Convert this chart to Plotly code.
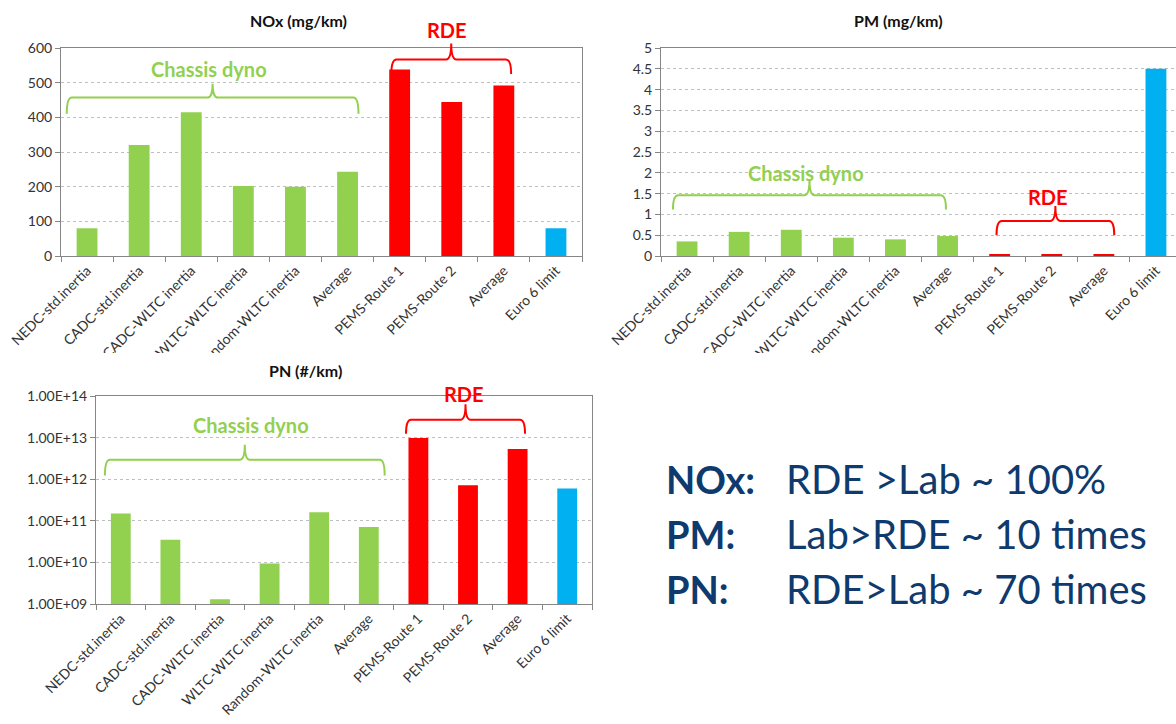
import plotly.graph_objects as go

W, H = 1176, 724

categories = ["NEDC-std.inertia", "CADC-std.inertia", "CADC-WLTC inertia",
              "WLTC-WLTC inertia", "Random-WLTC inertia", "Average",
              "PEMS-Route 1", "PEMS-Route 2", "Average", "Euro 6 limit"]
groups = ["lab"] * 6 + ["rde"] * 3 + ["limit"]

nox = [80, 320, 415, 202, 200, 243, 538, 444, 492, 80]
pm = [0.35, 0.58, 0.63, 0.44, 0.40, 0.48, 0.03, 0.03, 0.03, 4.5]
pn = [1.5e11, 3.5e10, 1.3e9, 9.4e9, 1.6e11, 7.1e10, 9.8e12, 7.2e11, 5.3e12, 6.0e11]

pn_ticks = [1e9, 1e10, 1e11, 1e12, 1e13, 1e14]
pn_ticktext = ["1.00E+09", "1.00E+10", "1.00E+11", "1.00E+12", "1.00E+13", "1.00E+14"]

summary_keys = ["NOx:", "PM:", "PN:"]
summary_vals = ["RDE >Lab ~ 100%", "Lab>RDE ~ 10 times", "RDE>Lab ~ 70 times"]

GREEN, RED, BLUE = "#92D050", "#FF0000", "#00B0F0"
NAVY = "#0E3A6E"
colour = {"lab": GREEN, "rde": RED, "limit": BLUE}
bar_colours = [colour[g] for g in groups]
FONT = "Lato, Calibri, sans-serif"


def hx(p):
    return p / W


def vy(p):
    return 1 - p / H


xs = list(range(len(categories)))

fig = go.Figure()
fig.add_trace(go.Bar(x=xs, y=nox, marker_color=bar_colours, xaxis="x", yaxis="y"))
fig.add_trace(go.Bar(x=xs, y=pm, marker_color=bar_colours, xaxis="x2", yaxis="y2"))
fig.add_trace(go.Bar(x=xs, y=pn, marker_color=bar_colours, xaxis="x3", yaxis="y3"))

xcommon = dict(type="category", tickmode="array", tickvals=xs, ticktext=categories,
               tickangle=-45, tickson="boundaries", ticks="outside", ticklen=5,
               tickcolor="#868686", showline=True, linecolor="#868686", mirror=True,
               showgrid=False, automargin=False,
               tickfont=dict(size=14, color="#333333", family=FONT),
               range=[-0.5, 9.5])
ycommon = dict(ticks="outside", ticklen=5, tickcolor="#868686", showline=True,
               linecolor="#868686", mirror=True, showgrid=True, gridcolor="#BFBFBF",
               griddash="dot", zeroline=False, automargin=False,
               tickfont=dict(size=14, color="#333333", family=FONT))

fig.update_layout(
    template="none",
    width=W, height=H, margin=dict(l=0, r=0, t=0, b=0),
    paper_bgcolor="white", plot_bgcolor="white", showlegend=False,
    bargap=0.6, font=dict(family=FONT),
    xaxis=dict(xcommon, domain=[hx(61), hx(582)], anchor="y"),
    yaxis=dict(ycommon, domain=[vy(256), vy(48)], anchor="x", range=[0, 600], dtick=100),
    # PM panel runs off the right edge in the original, so the range is cut short
    xaxis2=dict(xcommon, domain=[hx(661), 1.0], anchor="y2", range=[-0.5, 9.385]),
    yaxis2=dict(ycommon, domain=[vy(256), vy(48)], anchor="x2", range=[0, 5], dtick=0.5),
    xaxis3=dict(xcommon, domain=[hx(96), hx(592)], anchor="y3"),
    yaxis3=dict(ycommon, domain=[vy(604), vy(396)], anchor="x3", type="log",
                range=[9, 14], tickmode="array", tickvals=pn_ticks, ticktext=pn_ticktext),
)


def brace(ax, x0, x1, yb, yl, yt, conv, color, span=10):
    fx = lambda v: (v + 0.5) / span
    r = 0.1
    xm = (x0 + x1) / 2
    pts = [
        f"M {fx(x0)},{conv(yb)}",
        f"Q {fx(x0)},{conv(yl)} {fx(x0 + r)},{conv(yl)}",
        f"L {fx(xm - r)},{conv(yl)}",
        f"Q {fx(xm)},{conv(yl)} {fx(xm)},{conv(yt)}",
        f"Q {fx(xm)},{conv(yl)} {fx(xm + r)},{conv(yl)}",
        f"L {fx(x1 - r)},{conv(yl)}",
        f"Q {fx(x1)},{conv(yl)} {fx(x1)},{conv(yb)}",
    ]
    fig.add_shape(type="path", path=" ".join(pts), xref=f"{ax[0]} domain",
                  yref=f"{ax[1]} domain", line=dict(color=color, width=2))


def label(ax, x, y, conv, text, color, span=10):
    fig.add_annotation(x=(x + 0.5) / span, y=conv(y), xref=f"{ax[0]} domain",
                       yref=f"{ax[1]} domain", text=f"<b>{text}</b>", showarrow=False,
                       xanchor="center", yanchor="middle",
                       font=dict(size=20, color=color, family=FONT))


lin600 = lambda v: v / 600
lin5 = lambda v: v / 5
logc = lambda v: (v - 9) / 5
pm_span = 9.885

brace(("x", "y"), -0.39, 5.21, 410, 457, 497, lin600, GREEN)
label(("x", "y"), 2.34, 540, lin600, "Chassis dyno", GREEN)
brace(("x", "y"), 5.84, 8.14, 525, 567, 613, lin600, RED)
label(("x", "y"), 6.9, 651, lin600, "RDE", RED)

brace(("x2", "y2"), -0.27, 4.97, 1.12, 1.46, 1.82, lin5, GREEN, pm_span)
label(("x2", "y2"), 2.29, 2.0, lin5, "Chassis dyno", GREEN, pm_span)
brace(("x2", "y2"), 5.94, 8.2, 0.5, 0.84, 1.2, lin5, RED, pm_span)
label(("x2", "y2"), 6.93, 1.41, lin5, "RDE", RED, pm_span)

brace(("x3", "y3"), -0.32, 5.32, 12.09, 12.47, 12.83, logc, GREEN)
label(("x3", "y3"), 2.63, 13.31, logc, "Chassis dyno", GREEN)
brace(("x3", "y3"), 5.75, 8.15, 13.09, 13.43, 13.8, logc, RED)
label(("x3", "y3"), 6.91, 14.05, logc, "RDE", RED)

# top charts' tick labels are cut off in the original
fig.add_shape(type="rect", xref="paper", yref="paper", x0=0, x1=1,
              y0=vy(386), y1=vy(353), fillcolor="white", line_width=0, layer="above")

# chart titles
for text, x, y in [("NOx (mg/km)", 298, 20), ("PM (mg/km)", 898, 20), ("PN (#/km)", 305, 370)]:
    fig.add_annotation(x=hx(x), y=vy(y), xref="paper", yref="paper", text=f"<b>{text}</b>",
                       showarrow=False, xanchor="center", yanchor="middle",
                       font=dict(size=16, color="#111111", family=FONT))

# summary text
for i, (k, v) in enumerate(zip(summary_keys, summary_vals)):
    yy = vy(479 + i * 55)
    fig.add_annotation(x=hx(664), y=yy, xref="paper", yref="paper", text=f"<b>{k}</b>",
                       showarrow=False, xanchor="left", yanchor="middle",
                       font=dict(size=38, color=NAVY, family=FONT))
    fig.add_annotation(x=hx(784), y=yy, xref="paper", yref="paper", text=v,
                       showarrow=False, xanchor="left", yanchor="middle",
                       font=dict(size=40, color=NAVY, family=FONT))

fig.write_html("out.html", config={"displayModeBar": False},
               post_script="document.body.style.margin='0px';")
